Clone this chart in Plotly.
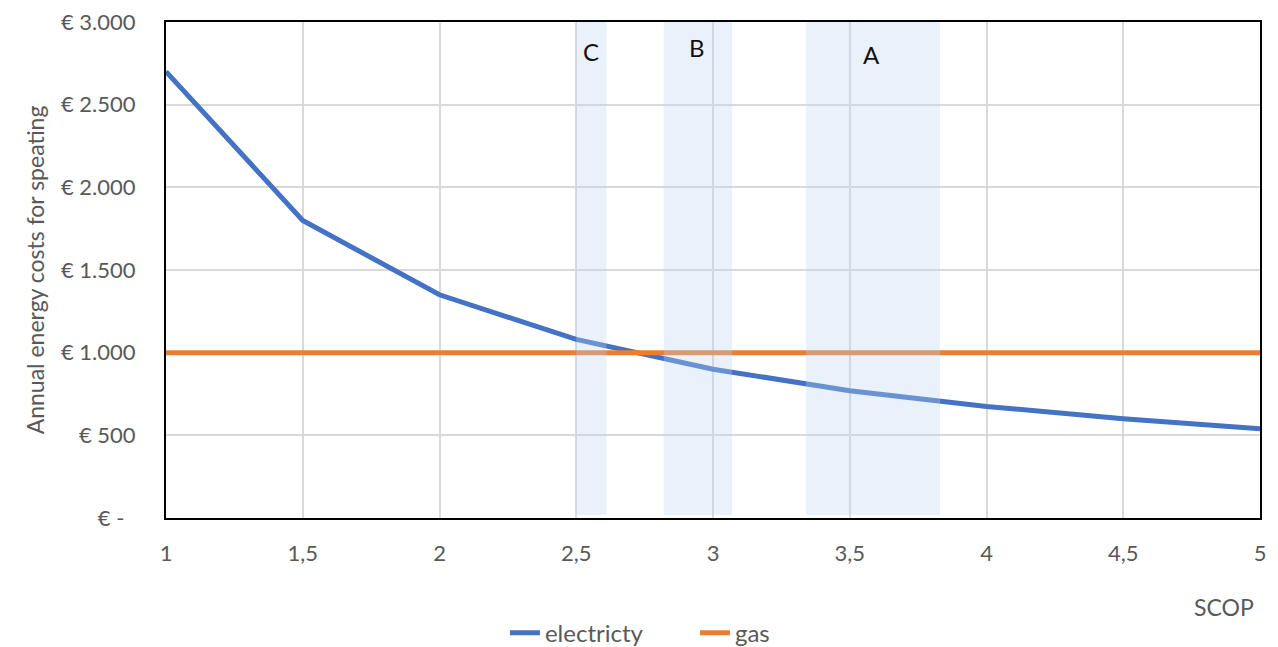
import plotly.graph_objects as go

scop = [1, 1.5, 2, 2.5, 3, 3.5, 4, 4.5, 5]
electricity = [2700, 1800, 1350, 1080, 900, 770, 675, 600, 540]
gas = [1000, 1000, 1000, 1000, 1000, 1000, 1000, 1000, 1000]

x_tickvals = [1, 1.5, 2, 2.5, 3, 3.5, 4, 4.5, 5]
x_ticktext = ["1", "1,5", "2", "2,5", "3", "3,5", "4", "4,5", "5"]
y_tickvals = [0, 500, 1000, 1500, 2000, 2500, 3000]
y_ticktext = ["€ -\u00a0\u00a0", "€ 500", "€ 1.000", "€ 1.500", "€ 2.000", "€ 2.500", "€ 3.000"]

band_labels = ["C", "B", "A"]
band_start = [2.5, 2.82, 3.34]
band_end = [2.61, 3.07, 3.83]
label_x = [2.555, 2.94, 3.58]
label_y = [2820, 2845, 2805]

FONT = "Lato, Open Sans, sans-serif"
GREY = "#595959"

fig = go.Figure()
fig.add_trace(go.Scatter(x=scop, y=electricity, mode="lines", name="electricty",
                         line=dict(color="#4472c4", width=5)))
fig.add_trace(go.Scatter(x=scop, y=gas, mode="lines", name="gas",
                         line=dict(color="#ed7d31", width=5)))

for x0, x1 in zip(band_start, band_end):
    fig.add_shape(type="rect", xref="x", yref="y", x0=x0, x1=x1, y0=18, y1=3025,
                  fillcolor="rgba(188,211,239,0.32)", line=dict(width=0), layer="above")

for t, xx, yy in zip(band_labels, label_x, label_y):
    fig.add_annotation(x=xx, y=yy, text=t, showarrow=False, xref="x", yref="y",
                       font=dict(size=24, color="#111111", family=FONT))

fig.add_annotation(x=0.967, y=-0.179, xref="paper", yref="paper", text="SCOP",
                   xanchor="center", yanchor="middle",
                   showarrow=False, font=dict(size=23, color=GREY, family=FONT))

fig.update_layout(
    width=1278, height=647,
    margin=dict(l=166, r=18, t=22, b=129, autoexpand=False),
    paper_bgcolor="white", plot_bgcolor="white",
    font=dict(family=FONT, color=GREY, size=22),
    showlegend=True,
    legend=dict(orientation="h", x=0.4835, xanchor="center", y=-0.232, yanchor="middle",
                font=dict(size=24, color=GREY), tracegroupgap=0,
                entrywidth=145, entrywidthmode="pixels"),
)
fig.update_xaxes(range=[1, 5], tickvals=x_tickvals, ticktext=x_ticktext,
                 showgrid=True, gridcolor="#d9d9d9", gridwidth=2,
                 showline=True, linecolor="#000000", linewidth=2, mirror=True,
                 zeroline=False, ticks="outside", ticklen=15, tickcolor="rgba(0,0,0,0)",
                 tickfont=dict(size=22, color=GREY), automargin=False)
fig.update_yaxes(range=[0, 3000], tickvals=y_tickvals, ticktext=y_ticktext,
                 showgrid=True, gridcolor="#d9d9d9", gridwidth=2,
                 showline=True, linecolor="#000000", linewidth=2, mirror=True,
                 zeroline=False, ticks="outside", ticklen=24, tickcolor="rgba(0,0,0,0)",
                 tickfont=dict(size=22, color=GREY), automargin=False,
                 title=dict(text="Annual energy costs for speating", font=dict(size=23, color=GREY),
                            standoff=10))

fig.write_html("out.html")
